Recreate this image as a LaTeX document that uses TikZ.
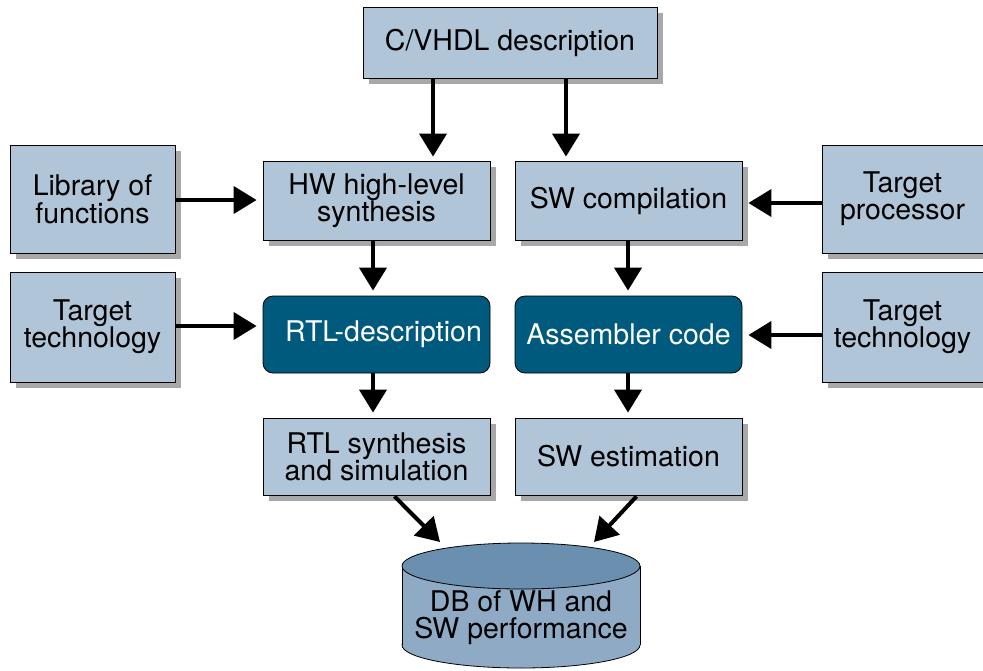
\documentclass[tikz,border=0pt]{standalone}
\usepackage{fontspec}
\setmainfont{TeX Gyre Heros}
\usetikzlibrary{arrows.meta,shadows,calc}
\definecolor{boxfill}{HTML}{B1C5D8}
\definecolor{darkbox}{HTML}{005A7E}
\definecolor{cylbody}{HTML}{8FAAC5}
\definecolor{cyltop}{HTML}{6A8FAF}
\definecolor{shadowgray}{HTML}{A8A8A8}
\begin{document}
\begin{tikzpicture}[x=1pt,y=-1pt,
  every node/.style={font=\fontsize{28.5}{27}\selectfont, align=center, inner sep=0pt},
  lbox/.style={draw=black, line width=0.8pt, fill=boxfill,
    drop shadow={shadow xshift=6pt, shadow yshift=-6pt, fill=shadowgray, opacity=1}},
  dbox/.style={draw=black, line width=0.8pt, fill=darkbox, rounded corners=10pt, text=white,
    minimum width=227pt, minimum height=77pt},
  arr/.style={line width=4pt, -{Triangle[length=23pt,width=27pt]}}]
\useasboundingbox (0,0) rectangle (983,670);
% boxes
\node[lbox, minimum width=294pt, minimum height=71pt] (cv) at (510,42.5) {C/VHDL description};
\node[lbox, minimum width=165pt, minimum height=108pt] (lib) at (92.5,199) {Library of\\functions};
\node[lbox, minimum width=227pt, minimum height=79pt] (hw) at (376.5,200.5) {HW high-level\\synthesis};
\node[lbox, minimum width=227pt, minimum height=79pt] (swc) at (628.5,200.5) {SW compilation};
\node[lbox, minimum width=161pt, minimum height=108pt] (tp) at (902.5,199) {Target\\processor};
\node[lbox, minimum width=165pt, minimum height=110pt] (ttl) at (92.5,327) {Target\\technology};
\node[dbox] (rtl) at (376.5,334.5) {\hspace*{14pt}RTL-description};
\node[dbox] (asm) at (628.5,334.5) {Assembler code};
\node[lbox, minimum width=161pt, minimum height=110pt] (ttr) at (902.5,327) {Target\\technology};
\node[lbox, minimum width=227pt, minimum height=77pt] (rs) at (376.5,456.5) {RTL synthesis\\and simulation};
\node[lbox, minimum width=227pt, minimum height=77pt] (swe) at (628.5,456.5) {SW estimation};
% cylinder
\fill[cylbody, draw=black, line width=0.8pt] (521,645) ellipse [x radius=119pt, y radius=23pt];
\fill[cylbody] (402,566) rectangle (640,645);
\draw[line width=0.8pt] (402,566) -- (402,645) (640,566) -- (640,645);
\filldraw[fill=cyltop, draw=black, line width=0.8pt] (521,566) ellipse [x radius=119pt, y radius=23pt];
\node (db) at (521,618) {DB of WH and\\SW performance};
\coordinate (dbl) at (440,542);
\coordinate (dbr) at (594,542);
% arrows
\draw[arr, shorten >=4pt] (cv.south -| 433,0) -- (hw.north -| 433,0);
\draw[arr, shorten >=4pt] (cv.south -| 566,0) -- (swc.north -| 566,0);
\draw[arr, shorten >=6pt] (lib.east |- 0,200) -- (hw.west |- 0,200);
\draw[arr, shorten >=6pt] (tp.west |- 0,203) -- (swc.east |- 0,203);
\draw[arr, shorten >=5pt] (hw.south -| 373,0) -- (rtl.north -| 373,0);
\draw[arr, shorten >=5pt] (swc.south -| 628,0) -- (asm.north -| 628,0);
\draw[arr, shorten >=6pt] (ttl.east |- 0,326) -- (rtl.west |- 0,326);
\draw[arr, shorten >=6pt] (ttr.west |- 0,335) -- (asm.east |- 0,335);
\draw[arr, shorten >=5pt] (rtl.south -| 373,0) -- (rs.north -| 373,0);
\draw[arr, shorten >=5pt] (asm.south -| 628,0) -- (swe.north -| 628,0);
\draw[arr] ($(rs.south)+(18,1)$) -- (dbl);
\draw[arr] ($(swe.south)+(8,1)$) -- (dbr);
\end{tikzpicture}
\end{document}
